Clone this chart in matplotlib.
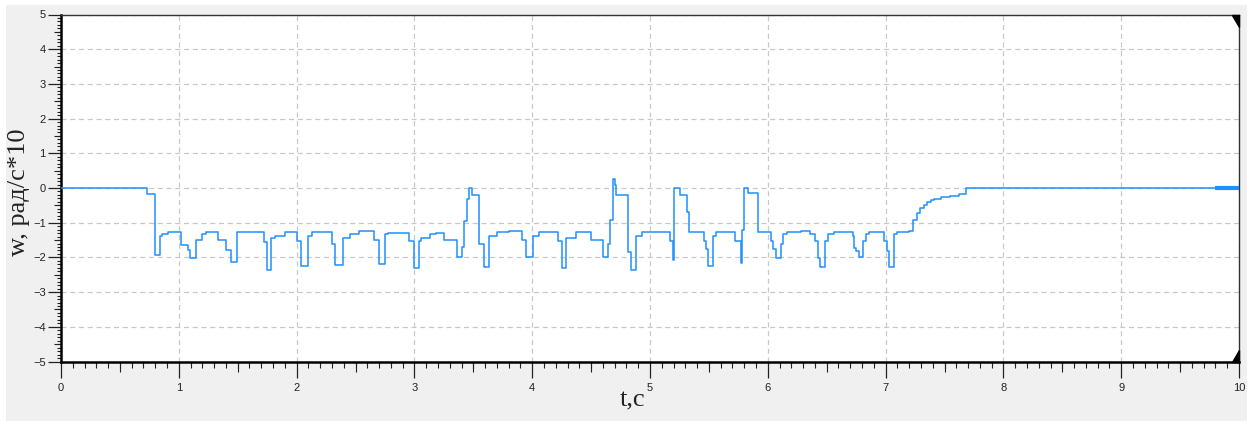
import numpy as np
import matplotlib
matplotlib.use("Agg")
import matplotlib.pyplot as plt
from matplotlib.patches import Rectangle, Polygon

# time of each change (s) and the value held from it (w, рад/с*10)
t = [0.00, 0.733, 0.795, 0.84, 0.855, 0.905, 1.02, 1.075, 1.095, 1.145,
     1.20, 1.23, 1.335, 1.40, 1.44, 1.49, 1.72, 1.745, 1.785, 1.815,
     1.90, 2.005, 2.04, 2.095, 2.13, 2.30, 2.33, 2.39, 2.45, 2.53,
     2.66, 2.70, 2.75, 2.78, 2.95, 3.00, 3.04, 3.055, 3.13, 3.18,
     3.25, 3.36, 3.405, 3.42, 3.445, 3.46, 3.485, 3.55, 3.59, 3.635,
     3.70, 3.80, 3.91, 3.95, 4.005, 4.06, 4.22, 4.25, 4.29, 4.37,
     4.50, 4.605, 4.64, 4.66, 4.685, 4.70, 4.715, 4.81, 4.84, 4.885,
     4.93, 5.17, 5.195, 5.205, 5.255, 5.315, 5.33, 5.455, 5.475, 5.495,
     5.535, 5.56, 5.725, 5.775, 5.785, 5.795, 5.83, 5.915, 6.025, 6.045,
     6.07, 6.11, 6.13, 6.16, 6.28, 6.36, 6.40, 6.43, 6.445, 6.485,
     6.51, 6.56, 6.72, 6.735, 6.75, 6.77, 6.81, 6.83, 6.86, 6.985,
     7.01, 7.03, 7.075, 7.10, 7.20, 7.235, 7.265, 7.295, 7.325, 7.355,
     7.385, 7.415, 7.47, 7.55, 7.62, 7.68, 10.0]
w = [0.0, -0.16, -1.92, -1.39, -1.34, -1.28, -1.65, -1.80, -2.03, -1.50,
     -1.34, -1.28, -1.50, -1.80, -2.14, -1.28, -1.55, -2.36, -1.44, -1.38,
     -1.28, -1.54, -2.25, -1.38, -1.28, -1.62, -2.22, -1.44, -1.34, -1.25,
     -1.50, -2.18, -1.34, -1.30, -1.54, -2.31, -1.54, -1.44, -1.34, -1.30,
     -1.50, -1.99, -1.70, -0.96, -0.33, 0.0, -0.19, -1.60, -2.29, -1.38,
     -1.28, -1.25, -1.50, -1.99, -1.38, -1.28, -1.54, -2.31, -1.44, -1.28,
     -1.50, -1.99, -1.62, -0.93, 0.25, 0.10, -0.19, -1.83, -2.36, -1.38,
     -1.28, -1.54, -2.07, 0.0, -0.19, -0.70, -1.28, -1.54, -1.77, -2.25,
     -1.38, -1.28, -1.54, -2.16, -1.20, 0.0, -0.15, -1.28, -1.54, -1.77,
     -2.03, -1.60, -1.34, -1.28, -1.25, -1.34, -1.54, -2.03, -2.28, -1.54,
     -1.34, -1.28, -1.38, -1.72, -1.82, -1.99, -1.54, -1.34, -1.28, -1.54,
     -1.82, -2.28, -1.34, -1.28, -1.25, -0.91, -0.72, -0.58, -0.48, -0.41,
     -0.36, -0.32, -0.27, -0.22, -0.17, 0.0, 0.0]
tail_start = 9.8

x_major = np.arange(0, 11, 1)
y_major = np.arange(-5, 6, 1)

W, H = 1250, 421
fig = plt.figure(figsize=(W / 100, H / 100), dpi=100, facecolor="white")
fig.patches.append(Rectangle((6 / W, 0), 1241 / W, 416 / H, transform=fig.transFigure,
                             facecolor="#f0f0f0", edgecolor="none", zorder=-5))
ax = fig.add_axes([61 / W, 59.5 / H, 1178 / W, 347 / H])
ax.set_facecolor("white")

blue = "#1e90ff"
ax.plot(t, w, drawstyle="steps-post", color=blue, lw=1.1, zorder=3)
tail = [tv for tv in t if tv >= tail_start]
ax.plot([tail_start] + tail, [w[-1]] * (len(tail) + 1), color=blue, lw=3, zorder=3,
        solid_capstyle="butt")

ax.set_xlim(0, 10)
ax.set_ylim(-5, 5)
ax.set_xticks(x_major)
ax.set_yticks(y_major)
ax.set_xticks(np.arange(0, 10.01, 0.1), minor=True)
ax.set_yticks(np.arange(-5, 5.01, 0.1), minor=True)
ax.grid(True, which="major", color="#c8c8c8", ls=(0, (4, 3)), lw=0.9)

lab_font = dict(family="Liberation Sans", size=8)
ax.tick_params(which="major", axis="x", length=11.5, width=0.9, pad=4, color="#222")
ax.tick_params(which="major", axis="y", length=9.5, width=0.9, pad=1.5, color="#222")
ax.tick_params(which="minor", axis="x", length=4.3, width=0.8, color="#222")
ax.tick_params(which="minor", axis="y", length=3, width=0.8, color="#222")
for lbl in ax.get_xticklabels() + ax.get_yticklabels():
    lbl.set_fontfamily(lab_font["family"])
    lbl.set_fontsize(lab_font["size"])
    lbl.set_color("#222")

# medium ticks at the halves
secx = ax.secondary_xaxis("bottom")
secx.set_xticks(np.arange(0.5, 10, 1))
secx.tick_params(length=7, width=0.8, labelbottom=False, color="#222")
secx.spines["bottom"].set_visible(False)
secy = ax.secondary_yaxis("left")
secy.set_yticks(np.arange(-4.5, 5, 1))
secy.tick_params(length=5, width=0.8, labelleft=False, color="#222")
secy.spines["left"].set_visible(False)

for side in ["left", "bottom"]:
    ax.spines[side].set_linewidth(1.8)
    ax.spines[side].set_color("black")
for side in ["top", "right"]:
    ax.spines[side].set_linewidth(1.0)
    ax.spines[side].set_color("#333")

# small black corner marks on the right
dx, dy = 7 / 1178, 12 / 347
ax.add_patch(Polygon([(1 - dx, 1), (1, 1), (1, 1 - dy)], closed=True, transform=ax.transAxes,
                     color="black", clip_on=False, zorder=5))
ax.add_patch(Polygon([(1 - dx, 0), (1, 0), (1, dy)], closed=True, transform=ax.transAxes,
                     color="black", clip_on=False, zorder=5))

fig.text(633 / W, 1 - 400 / H, "t,c", family="Liberation Serif", size=19,
         ha="center", va="center", color="#222")
fig.text(19 / W, 1 - 192 / H, "w, рад/с*10", family="Liberation Serif", size=19,
         rotation=90, ha="center", va="center", color="#222")

fig.savefig("out.png", dpi=100, facecolor=fig.get_facecolor())
